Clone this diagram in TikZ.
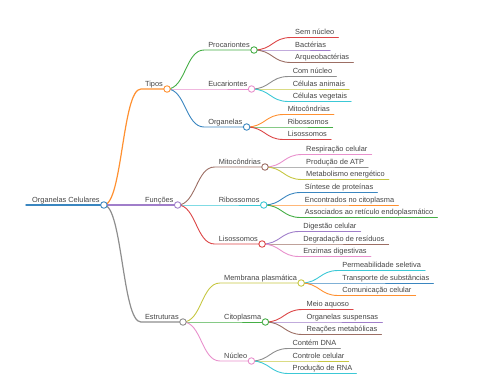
\documentclass[tikz,border=0pt]{standalone}
\usepackage{fontspec}
\setmainfont{Liberation Sans}
\usetikzlibrary{calc}
\definecolor{cblue}{HTML}{3A86C0}
\definecolor{corange}{HTML}{FF9030}
\definecolor{cgreen}{HTML}{45AE45}
\definecolor{cred}{HTML}{DC4546}
\definecolor{cpurple}{HTML}{A07ECA}
\definecolor{cbrown}{HTML}{9C6E64}
\definecolor{cpink}{HTML}{E890CC}
\definecolor{cgrey}{HTML}{8E8E8E}
\definecolor{colive}{HTML}{C6C742}
\definecolor{ccyan}{HTML}{3CC8D6}
\definecolor{txtgrey}{HTML}{444444}

\begin{document}
\begin{tikzpicture}[x=1pt,y=-1pt,line cap=round,
   lbl/.style={anchor=south west,inner xsep=4pt,inner ysep=2.5pt,text depth=0pt,
               text=txtgrey,font=\fontsize{7.4}{9}\selectfont},
   dot/.style={circle,draw,fill=white,line width=0.9pt,minimum size=6.5pt,inner sep=0pt},
   lnk/.style={line width=0.9pt},
   cv/.style={to path={.. controls +(18.5,0) and +(-18.5,0) .. (\tikztotarget)}}]
  \useasboundingbox (0,0) rectangle (480,384);
  % root
  \node[lbl] (root) at (28,205) {Organelas Celulares};
  \draw[cblue,line width=1.5pt] ($(root.south west)+(-2,0)$) -- (root.south east);
  % first level
  \node[lbl] (tipos) at ($(root.south east)+(37,-116)$) {Tipos};
  \node[lbl] (func)  at ($(root.south east)+(37,0)$)    {Funções};
  \node[lbl] (estr)  at ($(root.south east)+(37,117)$)  {Estruturas};
  \draw[lnk,line width=1.2pt,corange] (root.south east) to[cv] (tipos.south west) -- (tipos.south east);
  \draw[lnk,line width=1.2pt,cpurple] (root.south east) to[cv] (func.south west) -- (func.south east);
  \draw[lnk,line width=1.2pt,cgrey]   (root.south east) to[cv] (estr.south west) -- (estr.south east);
  % Tipos
  \node[lbl] (proc) at ($(tipos.south east)+(37,-39)$) {Procariontes};
  \node[lbl] (euca) at ($(tipos.south east)+(37,0)$)   {Eucariontes};
  \node[lbl] (orgs) at ($(tipos.south east)+(37,38)$)  {Organelas};
  \draw[lnk,cgreen] (tipos.south east) to[cv] (proc.south west) -- (proc.south east);
  \draw[lnk,cpink]  (tipos.south east) to[cv] (euca.south west) -- (euca.south east);
  \draw[lnk,cblue]  (tipos.south east) to[cv] (orgs.south west) -- (orgs.south east);
  \node[lbl] (semn) at ($(proc.south east)+(37,-12.5)$) {Sem núcleo};
  \node[lbl] (bact) at ($(proc.south east)+(37,0)$)     {Bactérias};
  \node[lbl] (arqu) at ($(proc.south east)+(37,12.5)$)  {Arqueobactérias};
  \draw[lnk,cred]    (proc.south east) to[cv] (semn.south west) -- (semn.south east);
  \draw[lnk,cpurple] (proc.south east) to[cv] (bact.south west) -- (bact.south east);
  \draw[lnk,cbrown]  (proc.south east) to[cv] (arqu.south west) -- (arqu.south east);
  \node[lbl] (comn) at ($(euca.south east)+(37,-12.5)$) {Com núcleo};
  \node[lbl] (cani) at ($(euca.south east)+(37,0)$)     {Células animais};
  \node[lbl] (cveg) at ($(euca.south east)+(37,12.5)$)  {Células vegetais};
  \draw[lnk,cgrey]  (euca.south east) to[cv] (comn.south west) -- (comn.south east);
  \draw[lnk,colive] (euca.south east) to[cv] (cani.south west) -- (cani.south east);
  \draw[lnk,ccyan]  (euca.south east) to[cv] (cveg.south west) -- (cveg.south east);
  \node[lbl] (omit) at ($(orgs.south east)+(37,-12.5)$) {Mitocôndrias};
  \node[lbl] (orib) at ($(orgs.south east)+(37,0)$)     {Ribossomos};
  \node[lbl] (olis) at ($(orgs.south east)+(37,12.5)$)  {Lisossomos};
  \draw[lnk,corange] (orgs.south east) to[cv] (omit.south west) -- (omit.south east);
  \draw[lnk,cgreen]  (orgs.south east) to[cv] (orib.south west) -- (orib.south east);
  \draw[lnk,cred]    (orgs.south east) to[cv] (olis.south west) -- (olis.south east);
  % Funções
  \node[lbl] (fmit) at ($(func.south east)+(37,-38)$) {Mitocôndrias};
  \node[lbl] (frib) at ($(func.south east)+(37,0)$)   {Ribossomos};
  \node[lbl] (flis) at ($(func.south east)+(37,39)$)  {Lisossomos};
  \draw[lnk,cbrown] (func.south east) to[cv] (fmit.south west) -- (fmit.south east);
  \draw[lnk,ccyan]  (func.south east) to[cv] (frib.south west) -- (frib.south east);
  \draw[lnk,cred]   (func.south east) to[cv] (flis.south west) -- (flis.south east);
  \node[lbl] (resp) at ($(fmit.south east)+(37,-12.5)$) {Respiração celular};
  \node[lbl] (patp) at ($(fmit.south east)+(37,0)$)     {Produção de ATP};
  \node[lbl] (meta) at ($(fmit.south east)+(37,12.5)$)  {Metabolismo energético};
  \draw[lnk,cpink]  (fmit.south east) to[cv] (resp.south west) -- (resp.south east);
  \draw[lnk,cgrey]  (fmit.south east) to[cv] (patp.south west) -- (patp.south east);
  \draw[lnk,colive] (fmit.south east) to[cv] (meta.south west) -- (meta.south east);
  \node[lbl] (sint) at ($(frib.south east)+(37,-12.5)$) {Síntese de proteínas};
  \node[lbl] (enco) at ($(frib.south east)+(37,0)$)     {Encontrados no citoplasma};
  \node[lbl] (asso) at ($(frib.south east)+(37,12.5)$)  {Associados ao retículo endoplasmático};
  \draw[lnk,cblue]   (frib.south east) to[cv] (sint.south west) -- (sint.south east);
  \draw[lnk,corange] (frib.south east) to[cv] (enco.south west) -- (enco.south east);
  \draw[lnk,cgreen]  (frib.south east) to[cv] (asso.south west) -- (asso.south east);
  \node[lbl] (dige) at ($(flis.south east)+(37,-12.5)$) {Digestão celular};
  \node[lbl] (degr) at ($(flis.south east)+(37,0)$)     {Degradação de resíduos};
  \node[lbl] (enzi) at ($(flis.south east)+(37,12.5)$)  {Enzimas digestivas};
  \draw[lnk,cpurple] (flis.south east) to[cv] (dige.south west) -- (dige.south east);
  \draw[lnk,cbrown]  (flis.south east) to[cv] (degr.south west) -- (degr.south east);
  \draw[lnk,cpink]   (flis.south east) to[cv] (enzi.south west) -- (enzi.south east);
  % Estruturas
  \node[lbl] (memb) at ($(estr.south east)+(37,-39)$) {Membrana plasmática};
  \node[lbl] (cito) at ($(estr.south east)+(37,0)$)   {Citoplasma};
  \node[lbl] (nucl) at ($(estr.south east)+(37,39)$)  {Núcleo};
  \draw[lnk,colive] (estr.south east) to[cv] (memb.south west) -- (memb.south east);
  \draw[lnk,cgreen] (estr.south east) to[cv] (cito.south west) -- (cito.south east);
  \draw[lnk,cpink]  (estr.south east) to[cv] (nucl.south west) -- (nucl.south east);
  \node[lbl] (perm) at ($(memb.south east)+(37,-12.5)$) {Permeabilidade seletiva};
  \node[lbl] (tran) at ($(memb.south east)+(37,0)$)     {Transporte de substâncias};
  \node[lbl] (comu) at ($(memb.south east)+(37,12.5)$)  {Comunicação celular};
  \draw[lnk,ccyan]   (memb.south east) to[cv] (perm.south west) -- (perm.south east);
  \draw[lnk,cblue]   (memb.south east) to[cv] (tran.south west) -- (tran.south east);
  \draw[lnk,corange] (memb.south east) to[cv] (comu.south west) -- (comu.south east);
  \node[lbl] (meio) at ($(cito.south east)+(37,-12.5)$) {Meio aquoso};
  \node[lbl] (osus) at ($(cito.south east)+(37,0)$)     {Organelas suspensas};
  \node[lbl] (reac) at ($(cito.south east)+(37,12.5)$)  {Reações metabólicas};
  \draw[lnk,cred]    (cito.south east) to[cv] (meio.south west) -- (meio.south east);
  \draw[lnk,cpurple] (cito.south east) to[cv] (osus.south west) -- (osus.south east);
  \draw[lnk,cbrown]  (cito.south east) to[cv] (reac.south west) -- (reac.south east);
  \node[lbl] (cdna) at ($(nucl.south east)+(37,-12.5)$) {Contém DNA};
  \node[lbl] (ctrl) at ($(nucl.south east)+(37,0)$)     {Controle celular};
  \node[lbl] (prna) at ($(nucl.south east)+(37,12.5)$)  {Produção de RNA};
  \draw[lnk,cgrey]  (nucl.south east) to[cv] (cdna.south west) -- (cdna.south east);
  \draw[lnk,colive] (nucl.south east) to[cv] (ctrl.south west) -- (ctrl.south east);
  \draw[lnk,ccyan]  (nucl.south east) to[cv] (prna.south west) -- (prna.south east);
  % circles on top
  \foreach \n/\c in {root/cblue,tipos/corange,func/cpurple,estr/cgrey,
                     proc/cgreen,euca/cpink,orgs/cblue,fmit/cbrown,frib/ccyan,
                     flis/cred,memb/colive,cito/cgreen,nucl/cpink}
    \node[dot,draw=\c] (\n-c) at (\n.south east) {};
\end{tikzpicture}
\end{document}
